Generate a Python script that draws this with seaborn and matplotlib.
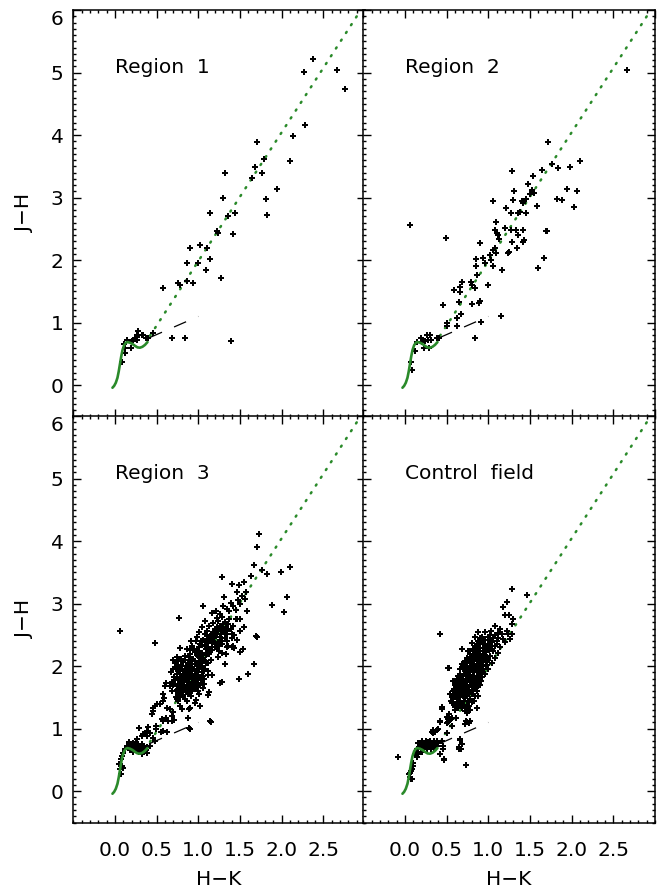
import matplotlib
matplotlib.use("Agg")
import matplotlib.pyplot as plt
import seaborn as sns
import pandas as pd
from matplotlib.ticker import MultipleLocator

# ---------------- data (H-K, J-H) ----------------
panel_titles = ["Region  1", "Region  2", "Region  3", "Control  field"]
x_ticks = [0.0, 0.5, 1.0, 1.5, 2.0, 2.5]
x_tick_labels = ["0.0", "0.5", "1.0", "1.5", "2.0", "2.5"]
y_ticks = [0, 1, 2, 3, 4, 5, 6]

# intrinsic (dwarf) locus
locus_hk = [-0.03, -0.01, 0.01, 0.03, 0.045, 0.06, 0.075, 0.09, 0.11, 0.13, 0.15,
            0.18, 0.21, 0.24, 0.27, 0.30, 0.33, 0.36, 0.39]
locus_jh = [-0.04, -0.01, 0.04, 0.12, 0.22, 0.34, 0.46, 0.56, 0.64, 0.68, 0.69,
            0.68, 0.66, 0.63, 0.605, 0.60, 0.615, 0.645, 0.69]
# reddening vector (dotted)
redd_hk = [0.42, 2.95]
redd_jh = [0.79, 6.00]
# CTTS locus (dashed)
ctts_hk = [0.42, 1.00]
ctts_jh = [0.764, 1.10]

region1 = [(2.38, 5.22), (2.27, 5.01), (2.66, 5.04), (2.76, 4.73), (2.28, 4.16), (2.14, 3.99),
           (1.71, 3.89), (2.10, 3.58), (1.79, 3.62), (1.68, 3.49), (1.77, 3.40), (1.64, 3.31),
           (1.94, 3.13), (1.81, 2.98), (1.83, 2.73), (1.32, 3.39), (1.30, 3.00), (1.14, 2.76),
           (1.44, 2.76), (1.36, 2.71), (1.23, 2.46), (1.24, 2.44), (1.42, 2.42), (0.90, 2.20),
           (1.02, 2.25), (1.10, 2.20), (1.14, 2.02), (1.00, 1.96), (0.86, 1.96), (1.09, 1.84),
           (1.27, 1.72), (0.86, 1.67), (0.94, 1.64), (0.76, 1.63), (0.78, 1.61), (0.58, 1.55),
           (0.68, 0.76), (0.84, 0.76), (1.39, 0.71), (0.46, 0.84), (0.39, 0.75), (0.37, 0.75),
           (0.33, 0.81), (0.28, 0.86), (0.26, 0.81), (0.24, 0.74), (0.21, 0.71), (0.19, 0.60),
           (0.14, 0.72), (0.11, 0.66), (0.12, 0.59), (0.12, 0.52), (0.08, 0.37), (0.27, 0.72),
           (0.22, 0.72), (0.26, 0.77), (0.34, 0.81), (0.38, 0.75), (0.40, 0.75), (0.15, 0.72)]

region2 = [(2.66, 5.04), (1.72, 3.89), (2.10, 3.58), (1.98, 3.49), (1.84, 3.47), (1.77, 3.53),
           (1.64, 3.44), (1.28, 3.43), (1.54, 3.35), (1.48, 3.21), (1.52, 3.12), (1.55, 3.07),
           (1.50, 3.06), (1.45, 2.97), (1.40, 2.94), (1.31, 3.10), (1.30, 2.96), (1.06, 2.95),
           (1.95, 3.13), (2.06, 3.10), (1.82, 2.98), (1.88, 2.96), (2.03, 2.85), (1.58, 2.87),
           (1.42, 2.92), (1.36, 2.76), (1.45, 2.75), (1.38, 2.77), (1.27, 2.75), (1.21, 2.84),
           (1.09, 2.61), (1.08, 2.48), (1.11, 2.44), (1.13, 2.34), (1.12, 2.40), (1.20, 2.52),
           (1.27, 2.49), (1.33, 2.49), (1.42, 2.49), (1.36, 2.40), (1.43, 2.32), (1.42, 2.29),
           (1.34, 2.19), (1.28, 2.29), (1.25, 2.13), (1.24, 2.11), (1.69, 2.47), (1.70, 2.46),
           (1.67, 2.04), (1.60, 1.87), (1.17, 1.85), (1.08, 2.19), (1.06, 2.16), (1.09, 2.11),
           (1.02, 2.09), (1.03, 2.01), (0.94, 2.04), (0.96, 1.95), (1.06, 1.91), (0.85, 2.02),
           (0.85, 1.91), (0.90, 2.27), (0.49, 2.36), (0.06, 2.56), (0.87, 1.77), (0.79, 1.65),
           (0.80, 1.60), (0.84, 1.55), (0.68, 1.65), (0.66, 1.57), (0.66, 1.49), (0.59, 1.52),
           (1.00, 1.60), (0.65, 1.33), (0.67, 1.14), (0.81, 1.30), (0.89, 1.32), (0.90, 1.34),
           (0.46, 1.29), (0.62, 1.08), (0.50, 0.99), (0.50, 0.95), (0.62, 0.95), (0.91, 1.01),
           (1.15, 1.10), (0.84, 0.76), (0.19, 0.76), (0.26, 0.81), (0.22, 0.72), (0.24, 0.71),
           (0.28, 0.72), (0.31, 0.72), (0.30, 0.81), (0.38, 0.75), (0.41, 0.76), (0.23, 0.59),
           (0.29, 0.59), (0.12, 0.54), (0.07, 0.37), (0.08, 0.25), (0.15, 0.69), (0.20, 0.69)]

region3 = [(0.06, 2.56), (0.48, 2.37), (0.77, 2.77), (1.06, 2.96), (1.28, 3.43), (1.41, 3.32),
           (1.49, 3.29), (1.55, 3.35), (1.63, 3.44), (1.46, 3.19), (1.57, 3.19), (1.31, 3.11),
           (1.52, 3.12), (1.48, 3.06), (1.56, 3.07), (1.39, 3.01), (1.42, 2.96), (1.50, 2.99),
           (1.30, 2.96), (1.45, 2.89), (1.34, 2.91), (1.37, 2.88), (1.58, 2.88), (1.88, 2.97),
           (2.03, 2.86), (2.07, 3.11), (2.10, 3.58), (1.99, 3.50), (1.82, 3.48), (1.76, 3.54),
           (1.67, 3.62), (1.71, 3.90), (1.73, 4.11), (1.21, 2.88), (1.26, 2.83), (1.16, 2.85),
           (1.22, 2.77), (1.24, 2.72), (1.37, 2.75), (1.45, 2.75), (1.50, 2.76), (1.08, 2.73),
           (1.13, 2.64), (1.18, 2.69), (1.26, 2.64), (1.20, 2.59), (1.10, 2.56), (1.04, 2.62),
           (1.01, 2.55), (1.08, 2.51), (1.16, 2.51), (1.23, 2.51), (1.35, 2.51), (1.43, 2.50),
           (1.50, 2.56), (0.99, 2.46), (0.91, 2.41), (1.03, 2.40), (1.10, 2.43), (1.14, 2.46),
           (1.18, 2.40), (1.28, 2.40), (1.35, 2.40), (1.70, 2.47), (1.69, 2.49), (1.05, 2.34),
           (1.01, 2.31), (1.08, 2.33), (1.12, 2.37), (1.16, 2.31), (1.22, 2.29), (1.34, 2.31),
           (1.41, 2.31), (1.43, 2.29), (1.54, 2.28), (0.78, 2.29), (0.90, 2.26), (0.84, 2.16),
           (0.90, 2.19), (0.96, 2.22), (1.00, 2.16), (1.06, 2.13), (1.10, 2.19), (1.14, 2.24),
           (1.24, 2.15), (1.28, 2.21), (1.33, 2.19), (1.50, 2.22), (1.42, 2.32), (1.36, 2.32),
           (1.32, 2.04), (1.67, 2.04), (1.60, 1.87), (1.49, 1.80), (1.29, 1.74), (1.26, 1.73),
           (1.28, 1.75), (1.12, 1.93), (1.16, 1.86), (1.12, 1.86), (1.07, 1.79), (1.07, 1.71),
           (1.06, 1.65), (1.13, 1.59), (1.12, 1.54), (1.00, 1.60), (1.01, 1.55), (0.97, 1.46),
           (0.96, 1.41), (1.02, 1.36), (0.90, 1.33), (0.89, 1.31), (0.80, 1.31), (0.78, 1.36),
           (0.76, 1.44), (0.74, 1.48), (0.61, 1.73), (0.60, 1.68), (0.58, 1.55), (0.59, 1.49),
           (0.58, 1.44), (0.50, 1.40), (0.54, 1.39), (0.48, 1.36), (0.46, 1.33), (0.46, 1.28),
           (0.44, 1.23), (0.62, 1.33), (0.66, 1.31), (0.70, 1.26), (0.68, 1.20), (0.71, 1.14),
           (0.68, 1.13), (0.56, 1.16), (0.61, 1.17), (0.88, 1.17), (0.90, 0.99), (0.89, 1.01),
           (1.15, 1.11), (1.14, 1.12), (0.49, 1.04), (0.49, 0.99), (0.58, 0.96), (0.62, 0.94),
           (0.38, 0.96), (0.36, 0.92), (0.33, 0.88),
           (0.29, 1.01), (0.40, 1.03), (0.42, 0.93), (0.38, 0.88), (0.34, 0.91), (0.46, 0.85),
           (0.48, 0.80), (0.58, 1.12), (0.64, 1.12), (0.68, 1.12), (0.55, 0.94), (0.62, 0.94),
           (0.26, 0.83), (0.22, 0.77), (0.18, 0.75), (0.14, 0.72), (0.12, 0.68), (0.16, 0.70),
           (0.20, 0.70), (0.24, 0.73), (0.28, 0.74), (0.32, 0.75), (0.34, 0.71), (0.38, 0.70),
           (0.42, 0.72), (0.30, 0.67), (0.26, 0.66), (0.22, 0.63), (0.34, 0.64), (0.38, 0.61),
           (0.10, 0.61), (0.08, 0.56), (0.07, 0.51), (0.05, 0.43), (0.08, 0.40), (0.06, 0.35),
           (0.10, 0.37), (0.07, 0.27), (0.18, 0.66), (0.21, 0.73), (0.27, 0.70), (0.31, 0.71),
           (0.36, 0.68), (0.29, 0.62), (0.33, 0.60), (0.25, 0.78), (0.17, 0.78),
           (0.19, 0.70), (0.23, 0.71), (0.27, 0.73), (0.31, 0.73), (0.35, 0.73), (0.25, 0.68),
           (0.29, 0.68), (0.33, 0.67), (0.37, 0.66),
           (0.70, 1.95), (0.72, 2.05), (0.74, 1.88), (0.75, 1.98), (0.76, 2.08), (0.77, 1.80),
           (0.78, 1.92), (0.79, 2.02), (0.80, 1.72), (0.80, 1.85), (0.81, 1.96), (0.82, 2.07),
           (0.83, 1.65), (0.83, 1.78), (0.84, 1.90), (0.85, 2.00), (0.85, 1.58), (0.86, 1.70),
           (0.87, 1.83), (0.87, 1.95), (0.88, 2.05), (0.88, 1.62), (0.89, 1.75), (0.90, 1.88),
           (0.90, 1.98), (0.91, 1.52), (0.91, 1.68), (0.92, 1.80), (0.92, 1.92), (0.93, 2.03),
           (0.93, 1.60), (0.94, 1.73), (0.95, 1.85), (0.95, 1.96), (0.96, 2.08), (0.97, 1.66),
           (0.97, 1.78), (0.98, 1.90), (0.99, 2.00), (1.00, 1.72), (1.00, 1.84), (1.01, 1.95),
           (1.02, 2.05), (1.03, 1.80), (1.04, 1.90), (1.05, 2.00), (1.06, 1.85), (1.08, 1.95),
           (1.09, 2.05), (0.72, 1.72), (0.74, 1.62), (0.76, 1.55), (0.78, 1.50), (0.80, 1.60),
           (0.82, 1.54), (0.84, 1.48), (0.86, 1.45), (0.76, 1.70), (0.71, 1.82), (0.68, 1.75),
           (0.66, 1.68), (0.69, 1.60), (0.73, 1.50), (0.67, 1.90), (0.70, 2.10), (0.74, 2.15),
           (0.79, 2.12), (0.84, 2.10), (0.89, 2.15), (0.94, 2.12), (0.98, 2.18), (1.03, 2.15),
           (1.07, 2.10), (1.12, 2.05), (1.15, 2.10), (0.81, 1.68), (0.86, 1.76), (0.89, 1.92),
           (0.93, 1.85), (0.96, 1.92), (0.99, 1.80), (0.84, 1.82), (0.78, 1.74), (0.88, 1.56),
           (0.94, 1.64), (1.02, 1.70), (1.05, 1.78), (0.75, 1.83), (0.82, 1.88), (0.91, 2.08),
           (0.72, 1.78), (0.76, 1.92), (0.80, 1.78), (0.84, 1.96), (0.88, 1.70), (0.92, 1.98),
           (0.96, 1.74), (1.00, 1.90), (0.74, 1.95), (0.78, 1.62), (0.82, 1.74), (0.86, 1.88),
           (0.90, 1.62), (0.94, 1.80), (0.98, 1.96), (1.02, 1.82), (0.79, 1.56), (0.83, 1.70),
           (0.87, 1.66), (0.91, 1.84), (0.95, 1.70), (0.99, 1.86), (1.03, 1.98), (1.07, 1.92),
           (0.70, 1.70), (0.73, 1.60), (0.77, 1.66), (0.81, 1.82), (0.85, 1.92), (0.89, 1.84),
           (0.93, 1.94), (0.97, 2.04), (1.01, 2.08), (1.05, 2.12), (1.09, 2.18), (1.13, 2.20),
           (1.17, 2.26), (1.21, 2.30), (1.25, 2.33), (1.29, 2.36), (1.20, 2.48), (1.16, 2.42),
           (1.10, 2.38), (1.24, 2.56), (1.28, 2.60), (1.32, 2.70), (1.34, 2.56),
           (0.95, 2.28), (1.00, 2.25), (1.02, 2.36), (1.06, 2.42), (1.09, 2.28), (1.12, 2.30),
           (1.15, 2.40), (1.19, 2.45), (1.20, 2.35), (1.24, 2.38), (1.26, 2.46), (1.27, 2.52),
           (1.30, 2.55), (1.32, 2.45), (1.18, 2.55), (1.22, 2.62), (1.30, 2.68), (1.28, 2.78),
           (1.33, 2.62), (1.05, 2.21), (0.93, 2.33), (0.87, 2.28), (0.97, 2.40), (1.11, 2.50),
           (1.25, 2.25), (1.39, 2.60), (1.42, 2.65), (1.47, 2.75), (1.41, 2.52), (1.36, 2.68),
           (1.46, 2.42), (1.55, 2.62), (1.40, 2.45)]

control = [(-0.08, 0.54), (0.42, 2.52), (1.29, 3.24), (1.46, 3.14), (1.23, 3.02), (1.18, 2.95),
           (1.25, 2.82), (1.20, 2.82), (1.30, 2.75), (1.08, 2.65), (1.29, 2.67), (0.52, 1.97),
           (0.42, 1.11), (0.39, 0.98), (0.34, 0.93), (0.66, 0.82), (0.67, 0.67), (0.65, 0.71),
           (0.73, 0.42), (0.47, 0.50), (0.07, 0.33), (0.06, 0.23), (0.08, 0.19), (0.10, 0.40),
           (0.16, 0.60), (0.14, 0.55), (0.74, 1.11), (0.72, 1.08), (0.78, 1.30), (0.74, 1.25),
           (0.54, 1.14), (0.52, 1.10), (0.50, 1.19), (0.44, 1.35),
           (1.14, 2.59), (1.22, 2.56), (1.24, 2.51), (1.28, 2.52), (1.16, 2.51), (1.12, 2.53),
           (1.03, 2.56), (0.96, 2.54), (0.88, 2.54), (0.84, 2.47), (0.92, 2.47), (1.00, 2.47),
           (1.06, 2.45), (1.12, 2.45), (1.18, 2.43), (1.26, 2.43), (1.20, 2.38), (1.02, 2.40),
           (0.94, 2.43), (0.88, 2.40), (0.80, 2.37), (0.86, 2.35), (0.94, 2.35), (1.02, 2.32),
           (1.08, 2.32), (1.14, 2.30), (0.68, 2.27), (0.76, 2.24), (0.82, 2.27), (0.90, 2.29),
           (0.98, 2.27), (1.06, 2.24), (1.12, 2.21), (0.78, 2.19), (0.86, 2.19), (0.94, 2.19),
           (1.02, 2.16), (1.08, 2.13), (0.74, 2.13), (0.82, 2.11), (0.90, 2.11), (0.98, 2.08),
           (1.04, 2.05), (0.53, 1.97), (0.68, 2.03), (0.70, 1.95), (0.78, 2.00), (0.86, 2.03),
           (0.94, 2.00), (1.00, 1.95), (0.74, 1.91), (0.82, 1.93), (0.90, 1.93), (0.96, 1.88),
           (0.64, 1.85), (0.70, 1.85), (0.78, 1.85), (0.86, 1.85), (0.92, 1.83),
           (0.58, 1.76), (0.64, 1.78), (0.70, 1.76), (0.76, 1.78), (0.82, 1.76), (0.88, 1.74),
           (0.60, 1.70), (0.66, 1.72), (0.72, 1.70), (0.78, 1.70), (0.84, 1.68), (0.90, 1.70),
           (0.62, 1.64), (0.68, 1.65), (0.74, 1.63), (0.80, 1.62), (0.86, 1.60), (0.58, 1.60),
           (0.64, 1.58), (0.70, 1.57), (0.76, 1.56), (0.82, 1.55), (0.88, 1.53), (0.80, 1.55),
           (0.54, 1.55), (0.60, 1.52), (0.66, 1.50), (0.72, 1.49), (0.58, 1.47), (0.56, 1.41),
           (0.62, 1.43), (0.68, 1.40), (0.74, 1.38), (0.68, 1.33), (0.72, 1.28), (0.75, 1.28),
           (0.77, 1.36), (0.73, 1.33), (0.86, 1.33), (0.44, 1.31), (0.53, 1.23), (0.56, 1.17),
           (0.52, 1.15), (0.51, 1.09), (0.42, 1.13), (0.55, 1.15), (0.61, 1.17), (0.73, 1.12),
           (0.78, 1.12), (0.77, 1.09), (0.56, 1.05), (0.40, 1.00), (0.50, 0.93), (0.34, 0.98),
           (0.36, 0.95), (0.32, 0.94), (0.66, 0.83), (0.68, 0.76), (0.65, 0.68), (0.46, 0.72),
           (0.44, 0.81), (0.38, 0.80),
           (0.63, 1.68), (0.67, 1.80), (0.71, 1.88), (0.75, 1.74), (0.79, 1.82), (0.83, 1.90),
           (0.87, 1.96), (0.91, 2.02), (0.95, 2.10), (0.99, 2.14), (0.73, 1.66), (0.77, 1.94),
           (0.81, 2.05), (0.85, 1.72), (0.89, 1.86), (0.93, 1.92), (0.97, 2.02), (0.69, 1.56),
           (0.65, 1.62), (0.61, 1.58), (0.71, 1.98), (0.83, 1.98), (0.79, 2.08), (0.87, 2.08),
           (0.93, 2.15), (0.97, 2.22), (1.01, 2.26), (0.85, 2.22), (0.89, 2.24), (0.75, 2.06),
           (0.73, 1.80), (0.69, 1.72), (0.66, 1.45), (0.70, 1.52), (0.78, 1.48), (0.84, 1.52),
           (0.76, 1.45), (0.64, 1.38), (0.60, 1.35),
           (0.57, 1.50), (0.61, 1.55), (0.65, 1.53), (0.69, 1.61), (0.73, 1.58), (0.77, 1.62),
           (0.81, 1.66), (0.85, 1.65), (0.59, 1.63), (0.63, 1.72), (0.67, 1.68), (0.71, 1.75),
           (0.75, 1.68), (0.79, 1.77), (0.83, 1.73), (0.87, 1.80), (0.91, 1.77), (0.62, 1.80),
           (0.66, 1.86), (0.70, 1.80), (0.74, 1.96), (0.78, 1.90), (0.82, 1.84), (0.86, 1.91),
           (0.90, 1.97), (0.94, 1.95), (0.66, 1.95), (0.70, 2.02), (0.74, 2.00), (0.78, 2.05),
           (0.82, 2.00), (0.86, 1.98), (0.90, 2.05), (0.94, 2.06), (0.98, 2.02), (0.72, 2.08),
           (0.76, 2.12), (0.80, 2.15), (0.84, 2.14), (0.88, 2.18), (0.92, 2.10), (0.96, 2.16),
           (1.00, 2.10), (0.78, 2.24), (0.82, 2.20), (0.86, 2.26), (0.90, 2.20), (0.94, 2.25),
           (0.98, 2.32), (1.04, 2.28), (0.84, 2.32), (0.88, 2.30), (0.92, 2.38), (0.96, 2.30),
           (1.00, 2.36), (1.04, 2.38), (1.10, 2.40), (0.90, 2.45), (0.96, 2.42), (1.02, 2.50),
           (1.08, 2.50), (1.10, 2.36), (0.55, 1.45), (0.59, 1.40), (0.63, 1.48), (0.67, 1.55),
           (0.71, 1.44), (0.75, 1.52), (0.79, 1.58), (0.60, 1.30), (0.64, 1.33), (0.69, 1.37),
           (0.80, 1.42), (0.83, 1.45), (0.68, 1.84), (0.72, 1.92), (0.76, 1.86), (0.80, 1.95),
           (0.84, 1.94), (0.88, 2.00), (0.92, 1.89), (0.64, 1.66), (0.68, 1.60), (0.72, 1.64),
           (0.76, 1.60), (0.80, 1.70), (0.84, 1.78), (0.88, 1.69),
           (0.34, 0.96), (0.40, 0.99), (0.16, 0.77), (0.20, 0.78), (0.24, 0.77), (0.28, 0.78),
           (0.32, 0.77), (0.36, 0.76), (0.40, 0.77), (0.18, 0.72), (0.22, 0.72), (0.26, 0.73),
           (0.30, 0.72), (0.34, 0.71), (0.38, 0.72), (0.19, 0.68), (0.23, 0.68), (0.27, 0.68),
           (0.31, 0.68), (0.35, 0.67), (0.14, 0.67), (0.12, 0.59), (0.16, 0.63), (0.20, 0.63),
           (0.46, 0.68), (0.47, 0.51), (0.10, 0.45), (0.08, 0.35), (0.06, 0.29), (0.07, 0.19),
           (0.05, 0.27), (0.42, 0.59), (0.68, 0.75), (0.66, 0.67), (0.21, 0.75), (0.25, 0.75),
           (0.29, 0.75), (0.33, 0.74), (0.23, 0.70), (0.27, 0.71), (0.31, 0.70), (0.17, 0.70),
           (0.25, 0.80), (0.30, 0.81), (0.21, 0.81), (0.35, 0.80)]

panel_points = [region1, region2, region3, control]

# ---------------- figure ----------------
sns.set_style("ticks")
plt.rcParams["font.family"] = ["DejaVu Sans"]
plt.rcParams["font.size"] = 14.5
for key in ["text.color", "axes.labelcolor", "xtick.color", "ytick.color", "axes.edgecolor"]:
    plt.rcParams[key] = "black"

W, H = 665, 890
fig = plt.figure(figsize=(W / 100, H / 100), dpi=100)

green = "#2a8a2a"
left_x, right_x, pw = 73.3, 363.3, 291.7
top_y, mid_y, ph = 10.0, 416.0, 406.5
positions = [(left_x, top_y), (right_x, top_y), (left_x, mid_y), (right_x, mid_y)]

for i, (px, py) in enumerate(positions):
    ax = fig.add_axes([px / W, 1 - (py + ph) / H, pw / W, ph / H])
    df = pd.DataFrame(panel_points[i], columns=["hk", "jh"])
    ax.plot(redd_hk, redd_jh, color=green, lw=1.8, linestyle=(0, (0.5, 3.2)),
            dash_capstyle="round", zorder=2)
    ax.plot(ctts_hk, ctts_jh, color="black", lw=0.9, linestyle=(0, (10.5, 10.5)), zorder=2)
    sns.scatterplot(data=df, x="hk", y="jh", ax=ax, marker="P", s=14, color="black",
                    linewidth=0, zorder=3, legend=False)
    ax.plot(locus_hk, locus_jh, color=green, lw=1.9, zorder=4, solid_capstyle="round")

    ax.set_xlim(-0.5, 3.0)
    ax.set_ylim(-0.5, 6.0)
    ax.xaxis.set_major_locator(MultipleLocator(0.5))
    ax.xaxis.set_minor_locator(MultipleLocator(0.1))
    ax.yaxis.set_major_locator(MultipleLocator(1))
    ax.yaxis.set_minor_locator(MultipleLocator(0.1))
    ax.tick_params(which="both", direction="in", top=True, right=True, width=1.0)
    ax.tick_params(which="major", length=5.5)
    ax.tick_params(which="minor", length=2.5)
    ax.tick_params(axis="y", pad=7)
    ax.tick_params(axis="x", pad=13)
    for s in ax.spines.values():
        s.set_linewidth(1.1)

    ax.text(0.0, 5.0, panel_titles[i], fontsize=14.5, ha="left", va="baseline")

    if i in (0, 2):
        ax.set_yticks(y_ticks)
        ax.set_yticklabels([str(v) for v in y_ticks])
        ax.get_yticklabels()[-1].set_va("top")
        ax.set_ylabel("J\u2212H", fontsize=14.5)
        ax.yaxis.set_label_coords(-0.135, 0.5)
    else:
        ax.set_yticklabels([])
        ax.set_ylabel("")
    if i in (2, 3):
        ax.set_xticks(x_ticks)
        ax.set_xticklabels(x_tick_labels)
        ax.set_xlabel("H\u2212K", fontsize=14.5)
        ax.xaxis.set_label_coords(0.5, -0.118)
    else:
        ax.set_xticklabels([])
        ax.set_xlabel("")

fig.savefig("out.png", dpi=100)
